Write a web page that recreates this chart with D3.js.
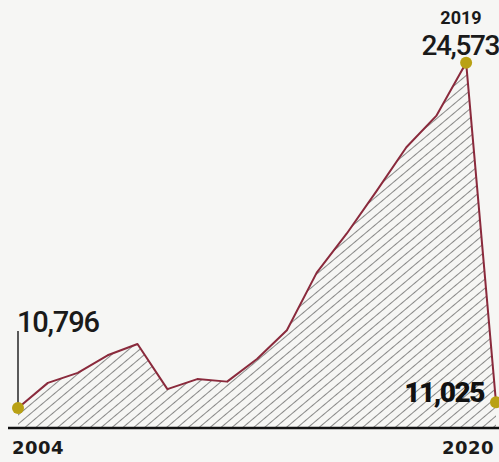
<!DOCTYPE html>
<html>
<head>
<meta charset="utf-8">
<script src="https://cdn.jsdelivr.net/npm/d3@7"></script>
<style>
  html, body { margin: 0; padding: 0; background: #f6f6f4; }
  svg { display: block; }
</style>
</head>
<body>
<div id="chart"></div>
<script>
/*
 * Hatched area chart, 2004 - 2020
 */

var years = [2004, 2005, 2006, 2007, 2008, 2009, 2010, 2011, 2012,
             2013, 2014, 2015, 2016, 2017, 2018, 2019, 2020];
var values = [10796, 11800, 12200, 12900, 13350, 11550, 11950, 11850, 12750,
              13900, 16200, 17750, 19450, 21200, 22450, 24573, 11025];

// labelled points
var calloutYears = [2004, 2019, 2020];
var axisLabels = ["2004", "2020"];

var width = 499, height = 462;
var lineColor = "#8a2a3c";
var dotColor = "#b9a114";

var svg = d3.select("#chart").append("svg")
  .attr("width", width).attr("height", height);

var x = d3.scaleLinear().domain([2004, 2020]).range([18, 496]);
var y = d3.scaleLinear().domain([10000, 25000]).range([428, 52]);

var data = years.map(function(yr, i){ return {year: yr, value: values[i]}; });

// hatch pattern
var defs = svg.append("defs");
defs.append("pattern")
  .attr("id", "hatch")
  .attr("patternUnits", "userSpaceOnUse")
  .attr("width", 7).attr("height", 7)
  .attr("patternTransform", "rotate(50)")
  .append("line")
    .attr("x1", 0).attr("y1", 0).attr("x2", 0).attr("y2", 7)
    .style("stroke", "#3e3e3e")
    .style("stroke-width", 1.2);

var area = d3.area()
  .x(function(d){ return x(d.year); })
  .y0(y(10000))
  .y1(function(d){ return y(d.value); });

var line = d3.line()
  .x(function(d){ return x(d.year); })
  .y(function(d){ return y(d.value); });

svg.append("path").datum(data)
  .attr("d", area)
  .style("fill", "url(#hatch)");

// baseline axis
var xAxis = d3.axisBottom(x).tickValues([]).tickSize(0).tickSizeOuter(0);
var axisG = svg.append("g")
  .attr("transform", "translate(0," + y(10000) + ")")
  .call(xAxis);
axisG.select(".domain")
  .attr("d", "M8,0H" + width)
  .style("stroke", "#111")
  .style("stroke-width", 2.6);

// year labels under baseline
svg.selectAll(".yearLabel").data(axisLabels).enter().append("text")
  .attr("class", "yearLabel")
  .attr("x", function(d, i){ return i == 0 ? 12 : 494; })
  .attr("y", 454)
  .attr("text-anchor", function(d, i){ return i == 0 ? "start" : "end"; })
  .style("font-family", "'DejaVu Sans', sans-serif")
  .style("font-weight", 700)
  .style("font-size", "18px")
  .style("letter-spacing", "0.5px")
  .style("fill", "#1a1a1a")
  .text(function(d){ return d; });

// 2004 leader line
svg.append("line")
  .attr("x1", x(2004)).attr("x2", x(2004))
  .attr("y1", 331).attr("y2", y(values[0]))
  .style("stroke", "#333")
  .style("stroke-width", 1.6);

svg.append("path").datum(data)
  .attr("d", line)
  .style("fill", "none")
  .style("stroke", lineColor)
  .style("stroke-width", 2)
  .style("stroke-linejoin", "round");

var callouts = data.filter(function(d){ return calloutYears.indexOf(d.year) >= 0; });
svg.selectAll(".dot").data(callouts).enter().append("circle")
  .attr("class", "dot")
  .attr("cx", function(d){ return x(d.year); })
  .attr("cy", function(d){ return y(d.value); })
  .attr("r", 6)
  .style("fill", dotColor);

var fmt = d3.format(",");

// value labels
svg.append("text")
  .attr("x", 17).attr("y", 332)
  .style("font-family", "Roboto, sans-serif")
  .style("font-weight", 500)
  .style("font-size", "29px")
  .style("letter-spacing", "-1.2px")
  .style("fill", "#1a1a1a")
  .text(fmt(values[0]));

svg.append("text")
  .attr("x", 461).attr("y", 24)
  .attr("text-anchor", "middle")
  .style("font-family", "Roboto, sans-serif")
  .style("font-weight", 700)
  .style("font-size", "18px")
  .style("fill", "#1a1a1a")
  .text("2019");

svg.append("text")
  .attr("x", 499).attr("y", 55)
  .attr("text-anchor", "end")
  .style("font-family", "Roboto, sans-serif")
  .style("font-weight", 500)
  .style("font-size", "28px")
  .style("letter-spacing", "-1.4px")
  .style("fill", "#1a1a1a")
  .text(fmt(values[15]));

svg.append("text")
  .attr("x", 484).attr("y", 402)
  .attr("text-anchor", "end")
  .style("font-family", "Roboto, sans-serif")
  .style("font-weight", 900)
  .style("font-size", "28px")
  .style("letter-spacing", "-1.5px")
  .style("fill", "#111")
  .text(fmt(values[16]));
</script>
</body>
</html>
